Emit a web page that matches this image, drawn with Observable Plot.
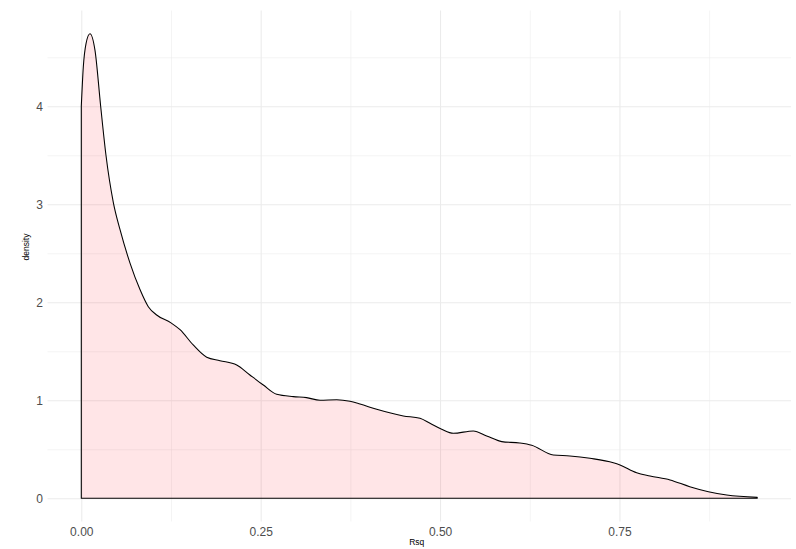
<!DOCTYPE html>
<html>
<head>
<meta charset="utf-8">
<script src="https://cdn.jsdelivr.net/npm/d3@7"></script>
<script src="https://cdn.jsdelivr.net/npm/@observablehq/plot@0.6"></script>
<style>
  html, body { margin: 0; padding: 0; background: #ffffff; }
  #chart svg { display: block; }
</style>
</head>
<body>
<div id="chart"></div>
<script>
// Kernel density estimate of Rsq, sampled along the curve
const rsq = [0, 0.0028, 0.0066, 0.0121, 0.0191, 0.027, 0.0344, 0.0446, 0.054, 0.0679,
  0.0818, 0.0934, 0.105, 0.125, 0.1376, 0.156, 0.1748, 0.1933, 0.2166, 0.235,
  0.2537, 0.2723, 0.2955, 0.314, 0.3327, 0.356, 0.3745, 0.3884, 0.4117, 0.4488,
  0.472, 0.486, 0.5023, 0.5185, 0.5463, 0.565, 0.586, 0.611, 0.6277, 0.6578,
  0.681, 0.709, 0.7415, 0.7508, 0.774, 0.7926, 0.8205, 0.848, 0.874, 0.8995, 0.942];
const density = [4.0, 4.40, 4.64, 4.74, 4.57, 4.0, 3.5, 3.02, 2.74, 2.40,
  2.13, 1.955, 1.87, 1.79, 1.72, 1.564, 1.439, 1.404, 1.36, 1.258,
  1.156, 1.061, 1.037, 1.027, 1.0, 1.006, 0.99, 0.962, 0.908, 0.84,
  0.816, 0.765, 0.704, 0.663, 0.687, 0.636, 0.578, 0.564, 0.541, 0.442,
  0.432, 0.408, 0.363, 0.34, 0.261, 0.228, 0.187, 0.118, 0.067, 0.034, 0.01];

// Axis breaks
const xMajor = [0, 0.25, 0.5, 0.75];
const xMinor = [0.125, 0.375, 0.625, 0.875];
const yMajor = [0, 1, 2, 3, 4];
const yMinor = [0.5, 1.5, 2.5, 3.5, 4.5];
const xTitle = "Rsq";
const yTitle = "density";

const curve = rsq.map((x, i) => ({rsq: x, density: density[i]}));

// 5% padding on each side of the data range
const xMin = d3.min(rsq), xMax = d3.max(rsq);
const yMin = 0, yMax = d3.max(density);
const xPad = (xMax - xMin) * 0.05, yPad = (yMax - yMin) * 0.05;

const gridColor = "#ebebeb";
const textColor = "#4d4d4d";

const chart = Plot.plot({
  width: 796,
  height: 549,
  marginLeft: 47.5,
  marginRight: 5,
  marginTop: 10.5,
  marginBottom: 27.5,
  style: {fontFamily: "Liberation Sans, Arial, sans-serif", background: "#ffffff"},
  x: {domain: [xMin - xPad, xMax + xPad]},
  y: {domain: [yMin - yPad, yMax + yPad]},
  marks: [
    Plot.gridX(xMinor, {stroke: gridColor, strokeOpacity: 1, strokeWidth: 0.55}),
    Plot.gridY(yMinor, {stroke: gridColor, strokeOpacity: 1, strokeWidth: 0.55}),
    Plot.gridX(xMajor, {stroke: gridColor, strokeOpacity: 1, strokeWidth: 1.07}),
    Plot.gridY(yMajor, {stroke: gridColor, strokeOpacity: 1, strokeWidth: 1.07}),
    Plot.areaY(curve, {
      x: "rsq", y: "density", curve: "monotone-x",
      fill: "#ff1020", fillOpacity: 0.11,
      stroke: "#000000", strokeWidth: 1.07, strokeLinejoin: "round"
    }),
    Plot.axisX(xMajor, {
      tickSize: 0, tickPadding: 5.5, fontSize: 12, fill: textColor,
      tickFormat: d3.format(".2f"), label: null
    }),
    Plot.axisY(yMajor, {
      tickSize: 0, tickPadding: 5, fontSize: 12, fill: textColor,
      tickFormat: d3.format("d"), label: null
    }),
    Plot.text([xTitle], {
      text: d => d, frameAnchor: "bottom", dx: -3, dy: 23,
      fontSize: 8.5, fill: "#000000"
    }),
    Plot.text([yTitle], {
      text: d => d, frameAnchor: "left", dx: -21.5, dy: -6, rotate: -90,
      fontSize: 8.5, fill: "#000000"
    })
  ]
});

document.getElementById("chart").appendChild(chart);
</script>
</body>
</html>
